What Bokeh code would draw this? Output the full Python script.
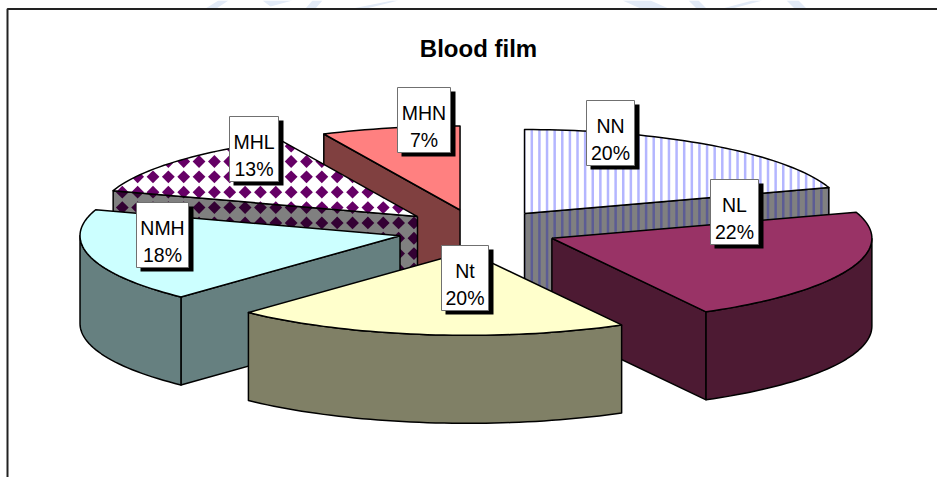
import math

from bokeh.core.properties import value
from bokeh.embed import file_html
from bokeh.models import Range1d
from bokeh.plotting import figure
from bokeh.resources import INLINE

# Slice data, clockwise from twelve o'clock
labels = ["NN", "NL", "Nt", "NMH", "MHL", "MHN"]
shares = [20, 22, 20, 18, 13, 7]
title = "Blood film"

# Surface and side colours per slice
top_colors = ["#ffffff", "#993366", "#ffffcc", "#ccffff", "#ffffff", "#ff8080"]
side_colors = ["#808080", "#4d1a33", "#808066", "#668080", "#808080", "#804040"]

# Tilted pie projection, in screen units
CX, CY = 477.0, 230.0
RX, RY = 320.0, 84.0
DEPTH = 88.0
EXPLODE = 0.25

# Label box placement: left, top, width
box_left = [586, 710, 441, 136, 229, 397]
box_top = [100, 179, 245, 202, 116, 87]
box_width = [48, 48, 47, 52, 49, 53]
BOX_H = 65

p = figure(
    width=937, height=477, output_backend="svg", toolbar_location=None,
    x_range=Range1d(0, 937), y_range=Range1d(477, 0),
    min_border=0, outline_line_color=None, background_fill_color="white",
)
p.axis.visible = False
p.grid.visible = False


def on_rim(tip, deg):
    a = math.radians(deg)
    return tip[0] + RX * math.sin(a), tip[1] - RY * math.cos(a)


def rim_points(tip, a0, a1):
    n = max(2, int(abs(a1 - a0) / 1.5) + 1)
    return [on_rim(tip, a0 + (a1 - a0) * i / (n - 1)) for i in range(n)]


def clip_convex(poly, window):
    # Sutherland-Hodgman clip of poly against a convex window
    area = sum(window[i][0] * window[(i + 1) % len(window)][1]
               - window[(i + 1) % len(window)][0] * window[i][1]
               for i in range(len(window)))
    sign = 1 if area > 0 else -1
    out = poly
    for i in range(len(window)):
        ax, ay = window[i]
        bx, by = window[(i + 1) % len(window)]
        side = lambda q: sign * ((bx - ax) * (q[1] - ay) - (by - ay) * (q[0] - ax))
        kept = []
        for j in range(len(out)):
            c, d = out[j], out[(j + 1) % len(out)]
            sc, sd = side(c), side(d)
            if sc >= 0:
                kept.append(c)
            if sc * sd < 0:
                t = sc / (sc - sd)
                kept.append((c[0] + t * (d[0] - c[0]), c[1] + t * (d[1] - c[1])))
        out = kept
        if not out:
            break
    return out


def bounds(poly):
    xs = [q[0] for q in poly]
    ys = [q[1] for q in poly]
    return min(xs), max(xs), min(ys), max(ys)


def stripes(window, color):
    x0, x1, y0, y1 = bounds(window)
    period, half = 7.62, 1.25
    k = math.floor((x0 - 531.3) / period)
    pieces = []
    while 531.3 + k * period - half < x1:
        c = 531.3 + k * period
        rect = [(c - half, y0), (c + half, y0), (c + half, y1), (c - half, y1)]
        piece = clip_convex(rect, window)
        if piece:
            pieces.append(piece)
        k += 1
    if pieces:
        p.patches([[q[0] for q in s] for s in pieces], [[q[1] for q in s] for s in pieces],
                  fill_color=color, line_color=None)


def diamonds(window, color):
    x0, x1, y0, y1 = bounds(window)
    period, half = 15.35, 6.4
    pieces = []
    i0, i1 = math.floor((x0 - 336.7) / period) - 1, math.ceil((x1 - 336.7) / period) + 1
    j0, j1 = math.floor((y0 - 191.7) / period) - 1, math.ceil((y1 - 191.7) / period) + 1
    for i in range(i0, i1 + 1):
        for j in range(j0, j1 + 1):
            cx, cy = 336.7 + i * period, 191.7 + j * period
            d = [(cx, cy - half), (cx + half, cy), (cx, cy + half), (cx - half, cy)]
            piece = clip_convex(d, window)
            if piece:
                pieces.append(piece)
    if pieces:
        p.patches([[q[0] for q in s] for s in pieces], [[q[1] for q in s] for s in pieces],
                  fill_color=color, line_color=None)


def texture(name, window, dark):
    if name == "NN":
        stripes(window, "#5c5c94" if dark else "#b4b6ff")
    elif name == "MHL":
        diamonds(window, "#330033" if dark else "#660066")


def polygon(points, fill, name=None, dark=False):
    xs = [q[0] for q in points]
    ys = [q[1] for q in points]
    p.patch(xs, ys, fill_color=fill, line_color=None)
    if name:
        texture(name, points, dark)
    p.line(xs + xs[:1], ys + ys[:1], line_color="black", line_width=1.5, line_join="round")


# Faint marks of the page behind the chart, along the top margin
haze_x = [[205, 216, 228, 218], [262, 270, 292, 286], [305, 315, 322, 312], [352, 366, 398, 392],
          [622, 640, 668, 650], [688, 696, 706, 698], [722, 732, 762, 752], [786, 794, 806, 798]]
haze_y = [[8, 8, 0, 0], [0, 6, 0, 0], [8, 8, 0, 0], [8, 8, 0, 0],
          [0, 8, 8, 0], [0, 8, 8, 0], [8, 8, 0, 0], [0, 8, 8, 0]]
p.patches(haze_x, haze_y, fill_color="#e3ebf7", line_color=None)

# Slice geometry from the shares
total = sum(shares)
slices = []
start = 0.0
for name, share, top, side in zip(labels, shares, top_colors, side_colors):
    end = start + 360.0 * share / total
    mid = math.radians((start + end) / 2)
    tip = (CX + EXPLODE * RX * math.sin(mid), CY - EXPLODE * RY * math.cos(mid))
    slices.append(dict(name=name, a0=start, a1=end, tip=tip, top=top, side=side))
    start = end

# Back slices first, so nearer ones cover them
for s in sorted(slices, key=lambda item: item["tip"][1]):
    tip, a0, a1 = s["tip"], s["a0"], s["a1"]
    down = lambda q: (q[0], q[1] + DEPTH)
    for edge in ([a0] if 180 < a0 < 360 else []) + ([a1] if 0 < a1 < 180 else []):
        corner = on_rim(tip, edge)
        polygon([tip, corner, down(corner), down(tip)], s["side"], s["name"], True)
    lo, hi = max(a0, 90.0), min(a1, 270.0)
    if lo < hi:
        arc = rim_points(tip, lo, hi)
        polygon(arc + [down(q) for q in reversed(arc)], s["side"])
    polygon([tip] + rim_points(tip, a0, a1), s["top"], s["name"], False)

# Chart frame: top and left rules
p.line([7, 7, 937], [477, 8.5, 8.5], line_color="#222222", line_width=2)

p.text([478], [48], text=[title], text_font=value("Liberation Sans"), text_font_style="bold",
       text_font_size="24px", text_align="center", text_baseline="alphabetic", text_color="black")

# Data labels: shadow, box, name and percentage
lefts = box_left
rights = [l + w for l, w in zip(box_left, box_width)]
tops = box_top
bottoms = [t + BOX_H for t in box_top]
p.quad(left=[l + 4 for l in lefts], right=[r + 5 for r in rights],
       top=[t + 4 for t in tops], bottom=[b + 4 for b in bottoms],
       fill_color="black", line_color=None)
p.quad(left=lefts, right=rights, top=tops, bottom=bottoms,
       fill_color="white", line_color="#707070", line_width=1)
centers = [(l + r) / 2 for l, r in zip(lefts, rights)]
p.text(centers, [t + 25 for t in tops], text=labels, text_font=value("Liberation Sans"),
       text_font_size="19.5px", text_align="center", text_baseline="alphabetic", text_color="black")
p.text(centers, [t + 52 for t in tops], text=[f"{v}%" for v in shares], text_font=value("Liberation Sans"),
       text_font_size="19.5px", text_align="center", text_baseline="alphabetic", text_color="black")

open("out.html", "w").write(file_html(p, INLINE))
